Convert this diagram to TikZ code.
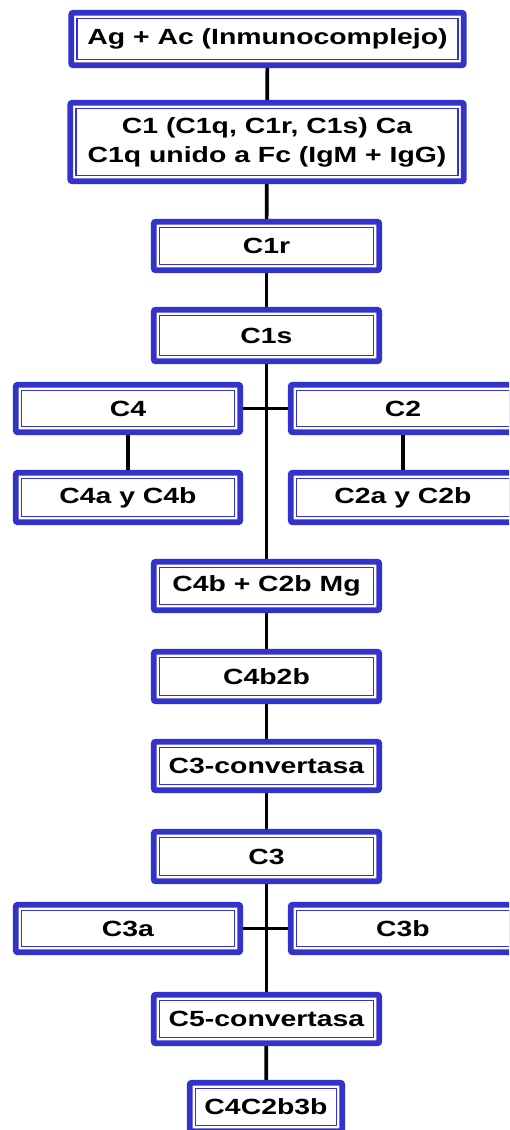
\documentclass[tikz,border=0pt]{standalone}
\usepackage{fontspec}
\newfontfamily\boxfont{Liberation Sans}[FakeStretch=1.29]
\usetikzlibrary{backgrounds}
\definecolor{boxblue}{RGB}{51,51,204}
\tikzset{
  blk/.style={draw=boxblue, line width=2.9pt, rounded corners=1pt, fill=white,
    inner sep=0pt, align=center, text=black,
    font=\boxfont\bfseries\fontsize{11}{14.5}\selectfont,
    path picture={\draw[boxblue, line width=0.8pt, sharp corners]
      ([shift={(2.9pt,-2.9pt)}]path picture bounding box.north west) rectangle
      ([shift={(-2.9pt,2.9pt)}]path picture bounding box.south east);}},
  wide/.style={minimum width=112.75pt},
  side/.style={minimum width=112.25pt},
  link/.style={draw=black, line width=1.85pt}
}
\begin{document}
\begin{tikzpicture}[x=0.5pt, y=-0.5pt]
\useasboundingbox (0,0) rectangle (509,1130);
\clip (0,0) rectangle (509,1130);

% main chain
\node[blk, minimum width=196.25pt, minimum height=26.25pt] (ag) at (267.5,39) {Ag + Ac (Inmunocomplejo)};
\node[blk, minimum width=196.75pt, minimum height=39.25pt] (c1) at (267,142) {C1 (C1q, C1r, C1s) Ca\\C1q unido a Fc (IgM + IgG)};
\node[blk, wide, minimum height=24.25pt] (c1r) at (266.5,246) {C1r};
\node[blk, wide, minimum height=25.75pt] (c1s) at (266.5,335.5) {C1s};

% C4 / C2 branches
\node[blk, side, minimum height=23.75pt] (c4) at (128,408.5) {C4};
\node[blk, side, minimum height=23.75pt] (c2) at (403,408.5) {C2};
\node[blk, side, minimum height=24.75pt] (c4ab) at (128,497.5) {C4a y C4b};
\node[blk, side, minimum height=24.75pt] (c2ab) at (403,497.5) {C2a y C2b};

\node[blk, wide, minimum height=24.25pt] (mg) at (266.5,586) {C4b + C2b Mg};
\node[blk, wide, minimum height=24.75pt] (c4b2b) at (266.5,676.5) {C4b2b};
\node[blk, wide, minimum height=24.25pt] (c3conv) at (266.5,766) {C3-convertasa};
\node[blk, wide, minimum height=24.75pt] (c3) at (266.5,856.5) {C3};

% C3 split
\node[blk, side, minimum height=23.75pt] (c3a) at (128,928.5) {C3a};
\node[blk, side, minimum height=23.75pt] (c3b) at (403,928.5) {C3b};

\node[blk, wide, minimum height=24.25pt] (c5conv) at (266.5,1019) {C5-convertasa};
\node[blk, minimum width=76.25pt, minimum height=24.25pt] (fin) at (266,1107) {C4C2b3b};

% connectors behind the boxes
\begin{scope}[on background layer]
  \draw[link] (ag) -- (c1);
  \draw[link] (c1) -- (c1r);
  \draw[link] (c1r) -- (c1s);
  \draw[link] (c1s) -- (mg);
  \draw[link] (c4) -- (c2);
  \draw[link] (c4) -- (c4ab);
  \draw[link] (c2) -- (c2ab);
  \draw[link] (mg) -- (c4b2b);
  \draw[link] (c4b2b) -- (c3conv);
  \draw[link] (c3conv) -- (c3);
  \draw[link] (c3) -- (c5conv);
  \draw[link] (c3a) -- (c3b);
  \draw[link] (c5conv) -- (fin);
\end{scope}
\end{tikzpicture}
\end{document}
